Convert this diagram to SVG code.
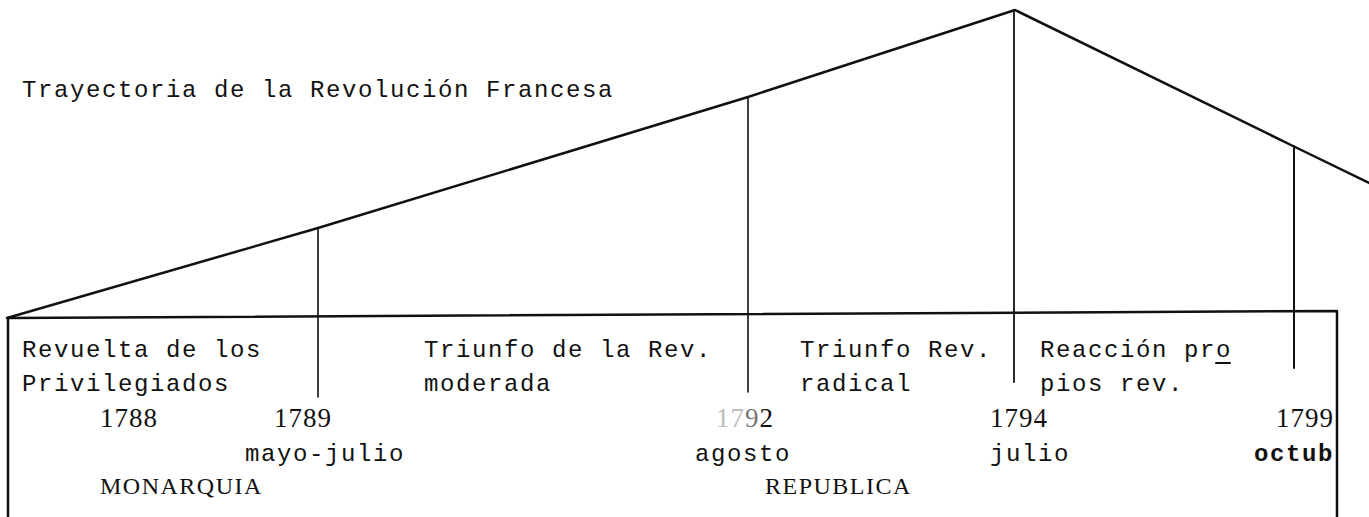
<svg xmlns="http://www.w3.org/2000/svg" width="1369" height="517" viewBox="0 0 1369 517">
<style>
.tw{font-family:"Liberation Mono","DejaVu Sans Mono",monospace;font-size:24px;letter-spacing:1.6px;fill:#111}
.yr{font-family:"Liberation Serif","DejaVu Serif",serif;font-size:27px;letter-spacing:1px;fill:#111}
.cap{font-family:"Liberation Serif","DejaVu Serif",serif;font-size:24px;letter-spacing:1.5px;fill:#111}
.ln{stroke:#111;fill:none;stroke-linecap:round;stroke-linejoin:round}
</style>
<rect width="1369" height="517" fill="#fff"/>
<g id="title"><text class="tw" x="22" y="97">Trayectoria de la Revolución Francesa</text></g>
<g id="connectors">
<polyline class="ln" stroke-width="2.5" points="7,318 318,228 748,97 1015,10 1293,146 1369,183"/>
<polyline class="ln" stroke-width="2.5" points="8,517 8,318 1337,311 1337,517"/>
<line class="ln" stroke-width="1.6" x1="318" y1="228" x2="318" y2="397"/>
<line class="ln" stroke-width="1.6" x1="748" y1="97" x2="748" y2="392"/>
<line class="ln" stroke-width="1.8" x1="1014" y1="10" x2="1014" y2="382"/>
<line class="ln" stroke-width="2" x1="1294" y1="146" x2="1294" y2="368"/>
</g>
<g id="period-1">
<text class="tw" x="22" y="357">Revuelta de los</text>
<text class="tw" x="22" y="391">Privilegiados</text>
<text class="yr" x="100" y="427">1788</text>
<text class="cap" x="100" y="494">MONARQUIA</text>
</g>
<g id="period-2">
<text class="tw" x="424" y="357">Triunfo de la Rev.</text>
<text class="tw" x="424" y="391">moderada</text>
<text class="yr" x="274" y="427">1789</text>
<text class="tw" x="245" y="461">mayo-julio</text>
</g>
<g id="period-3">
<text class="tw" x="800" y="357">Triunfo Rev.</text>
<text class="tw" x="800" y="391">radical</text>
<text class="yr" x="716" y="427"><tspan fill="#bbb">17</tspan><tspan fill="#777">9</tspan>2</text>
<text class="tw" x="695" y="461">agosto</text>
<text class="cap" x="765" y="494">REPUBLICA</text>
</g>
<g id="period-4">
<text class="tw" x="1040" y="357">Reacción pro</text>
<line class="ln" stroke-width="2" x1="1216" y1="363" x2="1230" y2="363"/>
<text class="tw" x="1040" y="391">pios rev.</text>
<text class="yr" x="990" y="427">1794</text>
<text class="tw" x="990" y="461">julio</text>
</g>
<g id="period-5">
<text class="yr" x="1334" y="427" text-anchor="end">1799</text>
<text class="tw" x="1334" y="461" font-weight="bold" text-anchor="end" letter-spacing="0.5">octub</text>
</g>
</svg>
